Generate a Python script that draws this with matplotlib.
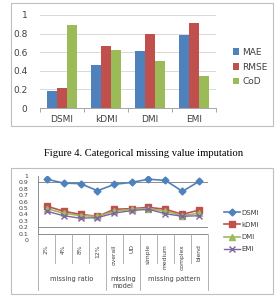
import numpy as np
import matplotlib
matplotlib.use('Agg')
import matplotlib.pyplot as plt
from matplotlib.patches import Rectangle

## bar chart data (top)
methods = ['DSMI', 'kDMI', 'DMI', 'EMI']
mae = [0.18, 0.46, 0.61, 0.78]
rmse = [0.21, 0.67, 0.80, 0.91]
cod = [0.89, 0.62, 0.51, 0.34]

## line chart data (bottom)
conds = ['2%', '4%', '8%', '12%', 'overall', 'UD', 'simple', 'medium', 'complex', 'blend']
groups = ['missing ratio', 'missing\nmodel', 'missing pattern']
group_sizes = [4, 2, 4]
dsmi = [0.95, 0.89, 0.88, 0.77, 0.87, 0.90, 0.95, 0.93, 0.76, 0.92]
kdmi = [0.53, 0.45, 0.40, 0.37, 0.48, 0.49, 0.51, 0.48, 0.40, 0.47]
dmi = [0.49, 0.42, 0.38, 0.37, 0.45, 0.48, 0.49, 0.45, 0.38, 0.42]
emi = [0.45, 0.38, 0.34, 0.35, 0.42, 0.46, 0.48, 0.41, 0.37, 0.38]

blue, red, green, purple = '#4F81BD', '#C0504D', '#9BBB59', '#8064A2'
txt = '#404040'
W, H = 280, 300

fig = plt.figure(figsize=(W / 100, H / 100), dpi=100)

def fx(px):
    return px / W

def fy(py):
    return 1 - py / H

# frames around the two charts
for (x0, y0, x1, y1) in [(11, 3, 273, 126), (11, 168, 273, 294)]:
    fig.patches.append(Rectangle((fx(x0), fy(y1)), fx(x1 - x0), (y1 - y0) / H,
                                 transform=fig.transFigure, fill=False,
                                 edgecolor='#BFBFBF', linewidth=0.8))

# ---- top: bar chart
ax = fig.add_axes([fx(40), fy(108), fx(176), 93 / H])
x = np.arange(len(methods))
bw = 0.22
ax.bar(x - bw, mae, bw, color=blue, label='MAE', zorder=3)
ax.bar(x, rmse, bw, color=red, label='RMSE', zorder=3)
ax.bar(x + bw, cod, bw, color=green, label='CoD', zorder=3)
ax.set_xlim(-0.5, len(methods) - 0.5)
ax.set_ylim(0, 1)
ax.set_yticks(np.arange(0, 1.01, 0.2))
ax.set_yticklabels(['0', '0.2', '0.4', '0.6', '0.8', '1'])
ax.yaxis.grid(True, color='#D9D9D9', linewidth=0.7, zorder=0)
for s in ['top', 'right', 'left']:
    ax.spines[s].set_visible(False)
ax.spines['bottom'].set_color('#A6A6A6')
ax.spines['bottom'].set_linewidth(0.7)
ax.set_xticks(x)
ax.set_xticklabels(methods)
ax.set_xticks(np.arange(-0.5, len(methods)), minor=True)
ax.tick_params(axis='x', which='major', length=0, pad=5, labelsize=6.5, labelcolor=txt)
ax.tick_params(axis='x', which='minor', length=3, color='#A6A6A6', width=0.7)
ax.tick_params(axis='y', length=0, pad=9, labelsize=6.5, labelcolor=txt)
fig.legend(*ax.get_legend_handles_labels(), loc='center left',
           bbox_to_anchor=(fx(228), fy(67)), frameon=False, fontsize=6.5,
           handlelength=0.7, handleheight=0.7, handletextpad=0.4,
           labelspacing=0.65, borderpad=0, labelcolor=txt)

# caption
fig.text(fx(144), fy(153), 'Figure 4. Categorical missing value imputation',
         ha='center', va='center', family='Liberation Serif', fontsize=7.6)

# ---- bottom: line chart
ax2 = fig.add_axes([fx(38), fy(240), fx(170), 64 / H])
xi = np.arange(len(conds))
ax2.plot(xi, dsmi, color=blue, marker='D', markersize=3.5, linewidth=1.2, label='DSMI')
ax2.plot(xi, kdmi, color=red, marker='s', markersize=4.5, linewidth=1.2, label='kDMI')
ax2.plot(xi, dmi, color=green, marker='^', markersize=4, linewidth=1.2, label='DMI')
ax2.plot(xi, emi, color=purple, marker='x', markersize=4, linewidth=1.0, label='EMI')
ax2.set_xlim(-0.5, len(conds) - 0.5)
ax2.set_ylim(0, 1)
ax2.set_yticks(np.arange(0, 1.01, 0.1))
ax2.set_yticklabels(['0', '0.1', '0.2', '0.3', '0.4', '0.5', '0.6', '0.7', '0.8', '0.9', '1'])
ax2.tick_params(axis='y', length=0, pad=7, labelsize=4.5, labelcolor=txt)
for yv in [0.9, 0.2, 0.1]:
    ax2.axhline(yv, color='#8C8C8C', linewidth=0.7, zorder=0)
for s in ['top', 'right', 'bottom']:
    ax2.spines[s].set_visible(False)
ax2.spines['left'].set_bounds(0.1, 1.0)
ax2.spines['left'].set_color('#8C8C8C')
ax2.spines['left'].set_linewidth(0.7)
ax2.set_xticks(xi)
ax2.set_xticklabels(conds, rotation=90, va='top')
ax2.tick_params(axis='x', length=0, pad=3, labelsize=4.3, labelcolor=txt)

# category separators and group labels
tr = ax2.get_xaxis_transform()
bounds = np.cumsum([0] + group_sizes) - 0.5
for b in np.arange(-0.5, len(conds)):
    low = -0.78 if b in bounds else -0.36
    ax2.plot([b, b], [0.1, low], transform=tr, color='#A6A6A6', linewidth=0.6, clip_on=False)
for g, a, b in zip(groups, bounds[:-1], bounds[1:]):
    ax2.text((a + b) / 2, -0.56, g, transform=tr, ha='center', va='top',
             fontsize=4.8, color=txt, linespacing=1.2)

fig.legend(*ax2.get_legend_handles_labels(), loc='center left',
           bbox_to_anchor=(fx(221), fy(231)), frameon=False, fontsize=5,
           handlelength=2.2, handletextpad=0.2, labelspacing=0.9,
           borderpad=0, labelcolor=txt)

fig.savefig('out.png', dpi=100)
